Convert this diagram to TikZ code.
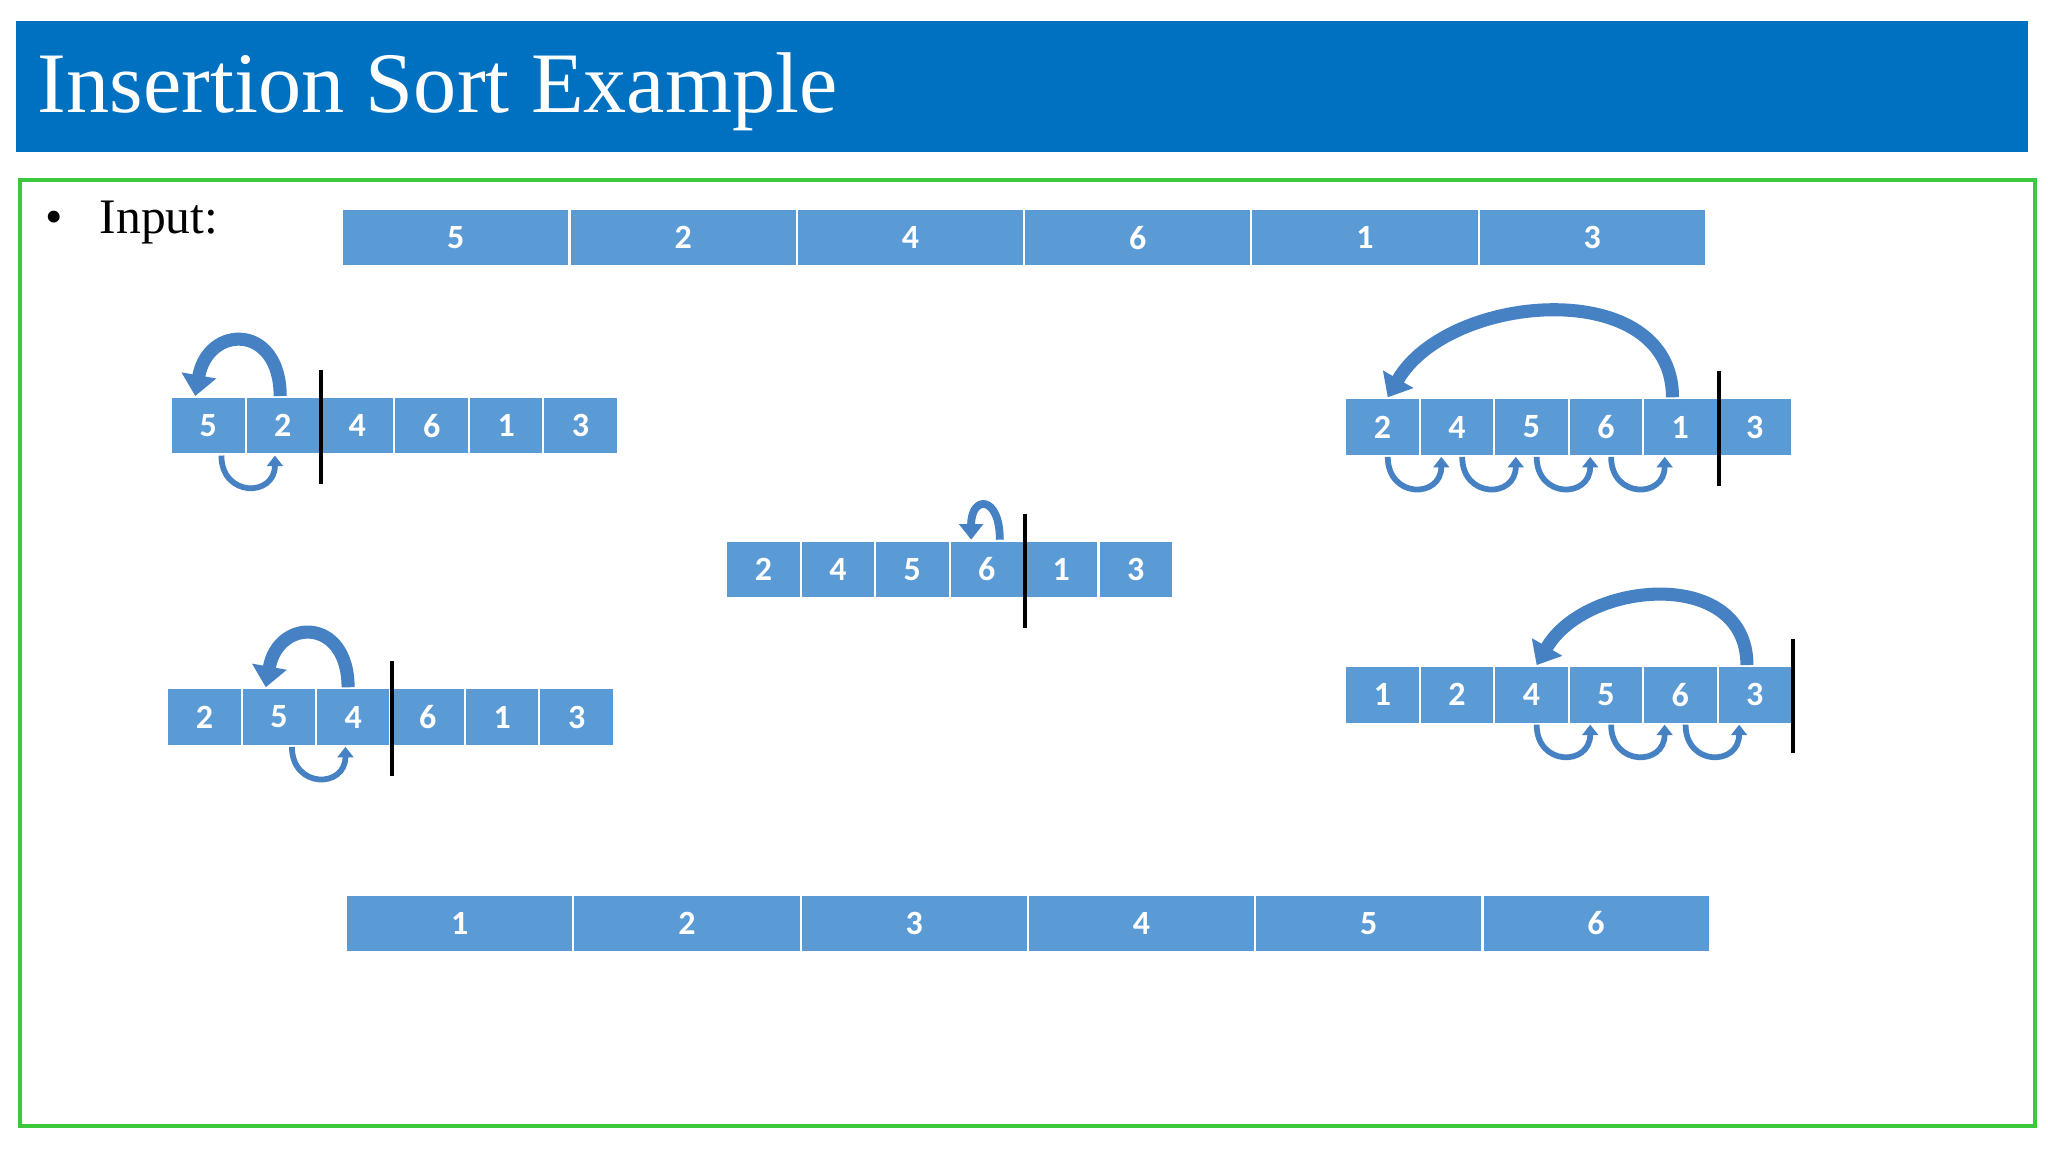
\documentclass[tikz,border=0pt]{standalone}
\usepackage{fontspec}
\setmainfont{Liberation Serif}
\newfontfamily\cellfont{Carlito}
\usetikzlibrary{arrows.meta}
\definecolor{titleblue}{RGB}{0,112,192}
\definecolor{cellblue}{RGB}{91,155,213}
\definecolor{arcblue}{RGB}{70,130,195}
\definecolor{framegreen}{RGB}{60,200,60}
\tikzset{
  bigcell/.style={fill=cellblue, draw=white, line width=0.8pt, minimum width=87pt, minimum height=22pt, inner sep=0pt, text=white, font=\cellfont\bfseries\fontsize{13}{13}\selectfont},
  smallcell/.style={bigcell, minimum width=28.5pt},
  sepbar/.style={line width=1.5pt, black},
  bigarrow/.style={arcblue, line width=5pt, -{Triangle[width=13pt,length=8pt]}},
  smallarrow/.style={arcblue, line width=2.2pt, -{Triangle[width=6pt,length=4pt]}},
}
\begin{document}
\begin{tikzpicture}[x=0.5pt,y=-0.5pt]
\useasboundingbox (0,0) rectangle (1568,882);
\fill[white] (0,0) rectangle (1568,882);
% title and frame
\fill[titleblue] (12,16) rectangle (1553,116);
\node[anchor=west, text=white, font=\fontsize{33}{33}\selectfont] (title) at (22,70) {Insertion Sort Example};
\draw[framegreen, line width=1.6pt] (15,138) rectangle (1558,862);
\node[anchor=west, font=\fontsize{19}{19}\selectfont] (input) at (28,170) {\textbullet\hspace{14pt}Input:};
% input and output rows
\foreach \v [count=\i] in {5,2,4,6,1,3}
  \node[bigcell] (in\i) at ({262+87+(\i-1)*174},182) {\v};
\foreach \v [count=\i] in {1,2,3,4,5,6}
  \node[bigcell] (out\i) at ({265+87+(\i-1)*174},707) {\v};
% step rows
\foreach \v [count=\i] in {5,2,4,6,1,3}
  \node[smallcell] (a\i) at ({131+28.5+(\i-1)*57},326) {\v};
\foreach \v [count=\i] in {2,4,5,6,1,3}
  \node[smallcell] (b\i) at ({556+28.5+(\i-1)*57},436) {\v};
\foreach \v [count=\i] in {2,5,4,6,1,3}
  \node[smallcell] (c\i) at ({128+28.5+(\i-1)*57},549) {\v};
\foreach \v [count=\i] in {2,4,5,6,1,3}
  \node[smallcell] (d\i) at ({1030+28.5+(\i-1)*57},327) {\v};
\foreach \v [count=\i] in {1,2,4,5,6,3}
  \node[smallcell] (e\i) at ({1030+28.5+(\i-1)*57},532) {\v};
% separators
\draw[sepbar] ([yshift=10pt]a2.north east) -- ([yshift=-11pt]a2.south east);
\draw[sepbar] ([yshift=10pt]b4.north east) -- ([yshift=-11pt]b4.south east);
\draw[sepbar] ([yshift=10pt]c3.north east) -- ([yshift=-11pt]c3.south east);
\draw[sepbar] ([yshift=10pt]d5.north east) -- ([yshift=-11pt]d5.south east);
\draw[sepbar] ([yshift=10pt]e6.north east) -- ([yshift=-11pt]e6.south east);
% moves
\draw[bigarrow] ([xshift=-1pt]a2.north) to[out=90,in=80,looseness=2.2] ([xshift=-5pt]a1.north);
\draw[smallarrow] ([xshift=5pt]a1.south) to[out=-90,in=-90,looseness=2] ([xshift=-3pt]a2.south);
\draw[bigarrow, line width=3pt, -{Triangle[width=9pt,length=6pt]}] ([xshift=5pt]b4.north) to[out=90,in=90,looseness=4] ([xshift=-6pt]b4.north);
\draw[bigarrow] ([xshift=-2pt]c3.north) to[out=90,in=80,looseness=2.2] ([xshift=-5pt]c2.north);
\draw[smallarrow] ([xshift=5pt]c2.south) to[out=-90,in=-90,looseness=2] ([xshift=-3pt]c3.south);
\draw[bigarrow] ([xshift=-3pt]d5.north) to[out=90,in=60,looseness=1.1] ([xshift=2pt]d1.north);
\foreach \i [evaluate=\i as \j using int(\i+1)] in {1,2,3,4}
  \draw[smallarrow] ([xshift=2pt]d\i.south) to[out=-90,in=-90,looseness=2] ([xshift=-6pt]d\j.south);
\draw[bigarrow] ([xshift=-3pt]e6.north) to[out=90,in=60,looseness=1.2] ([xshift=2pt]e3.north);
\foreach \i [evaluate=\i as \j using int(\i+1)] in {3,4,5}
  \draw[smallarrow] ([xshift=2pt]e\i.south) to[out=-90,in=-90,looseness=2] ([xshift=-6pt]e\j.south);
\end{tikzpicture}
\end{document}
